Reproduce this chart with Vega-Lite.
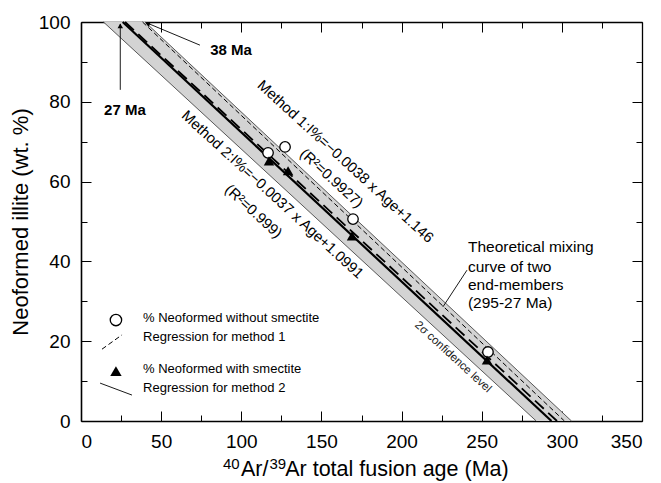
{
  "$schema": "https://vega.github.io/schema/vega-lite/v6.json",
  "width": 561,
  "height": 399,
  "autosize": {"type": "none"},
  "padding": {"left": 81, "top": 22, "right": 19, "bottom": 62},
  "background": "white",
  "config": {
    "view": {"stroke": null},
    "font": "Liberation Sans",
    "axis": {
      "grid": false,
      "domainColor": "black",
      "tickColor": "black",
      "labelColor": "black",
      "titleColor": "black",
      "labelFont": "Liberation Sans",
      "titleFont": "Liberation Sans",
      "labelFontSize": 19,
      "titleFontSize": 22,
      "titleFontWeight": "normal",
      "domainWidth": 1.6,
      "tickWidth": 1
    }
  },
  "datasets": {
    "band": [
      {"y": 100, "x": 14, "x2": 40},
      {"y": 0, "x": 284, "x2": 306}
    ],
    "segs": [
      {"kind": "edge", "x": 14, "y": 100, "x2": 284, "y2": 0},
      {"kind": "edge", "x": 40, "y": 100, "x2": 306, "y2": 0},
      {"kind": "solid", "x": 26, "y": 100, "x2": 293.5, "y2": 0},
      {"kind": "longdash", "x": 27.5, "y": 100, "x2": 297, "y2": 0},
      {"kind": "dash", "x": 38.4, "y": 100, "x2": 301.6, "y2": 0},
      {"kind": "thin", "x": 74.2, "y": 94.2, "x2": 41.5, "y2": 99.7},
      {"kind": "thin", "x": 24.5, "y": 83, "x2": 24.5, "y2": 99.5},
      {"kind": "thin", "x": 240.8, "y": 37.8, "x2": 225.8, "y2": 28.6},
      {"kind": "dash", "x": 13.1, "y": 18, "x2": 25.6, "y2": 21.6},
      {"kind": "thin", "x": 11.9, "y": 9.5, "x2": 31.8, "y2": 6.5}
    ],
    "points": [
      {"series": "without", "x": 116.7, "y": 67.2},
      {"series": "without", "x": 127.3, "y": 68.7},
      {"series": "without", "x": 169.7, "y": 50.6},
      {"series": "without", "x": 253.9, "y": 17.3},
      {"series": "with", "x": 117.3, "y": 65.2},
      {"series": "with", "x": 129.2, "y": 62.7},
      {"series": "with", "x": 169.1, "y": 46.4},
      {"series": "with", "x": 253.3, "y": 15.3}
    ],
    "legendmarks": [
      {"series": "without", "x": 21.8, "y": 25.3},
      {"series": "with", "x": 21.8, "y": 12.5}
    ],
    "heads": [
      {"name": "a38", "x": 41.5, "y": 99.6},
      {"name": "a27", "x": 24.5, "y": 99.0}
    ],
    "xtitle": [
      {"part": "sup", "x": 88.6, "y": -12.0, "text": "40"},
      {"part": "main", "x": 99.8, "y": -13.8, "text": "Ar/"},
      {"part": "sup", "x": 117.6, "y": -12.0, "text": "39"},
      {"part": "main", "x": 127.4, "y": -13.8, "text": "Ar total fusion age (Ma)"}
    ],
    "texts": [
      {"group": "bold", "x": 93.6, "y": 93.0, "text": "38 Ma"},
      {"group": "bold", "x": 27.4, "y": 77.9, "text": "27 Ma"},
      {"group": "eq", "x": 164.7, "y": 64.9, "text": "Method 1:I%=−0.0038 x Age+1.146"},
      {"group": "eq", "x": 156, "y": 60.7, "text": "(R²=0.9927)"},
      {"group": "eq", "x": 119.2, "y": 56.6, "text": "Method 2:I%=−0.0037 x Age+1.0991"},
      {"group": "eq", "x": 107.3, "y": 52.4, "text": "(R²=0.999)"},
      {"group": "sigma", "x": 232, "y": 16.0, "text": "2σ confidence level"},
      {"group": "theory", "x": 241.4, "y": 43.6, "text": "Theoretical mixing"},
      {"group": "theory", "x": 241.4, "y": 38.6, "text": "curve of two"},
      {"group": "theory", "x": 241.4, "y": 34.1, "text": "end-members"},
      {"group": "theory", "x": 241.4, "y": 29.6, "text": "(295-27 Ma)"},
      {"group": "legend", "x": 38.7, "y": 25.8, "text": "% Neoformed without smectite"},
      {"group": "legend", "x": 38.7, "y": 21.1, "text": "Regression for method 1"},
      {"group": "legend", "x": 38.7, "y": 13.0, "text": "% Neoformed with smectite"},
      {"group": "legend", "x": 38.7, "y": 8.3, "text": "Regression for method 2"}
    ]
  },
  "resolve": {"axis": {"x": "independent", "y": "independent"}},
  "encoding": {
    "x": {"field": "x", "type": "quantitative", "scale": {"domain": [0, 350], "nice": false, "zero": false}, "axis": null},
    "y": {"field": "y", "type": "quantitative", "scale": {"domain": [0, 100], "nice": false, "zero": false}, "axis": null}
  },
  "layer": [
    {
      "data": {"name": "band"},
      "mark": {"type": "area", "orient": "horizontal", "fill": "#d3d3d3"},
      "encoding": {
        "x": {"field": "x", "type": "quantitative", "scale": {"domain": [0, 350], "nice": false, "zero": false},
          "axis": {"orient": "bottom", "values": [0, 50, 100, 150, 200, 250, 300, 350], "tickSize": -10, "labelPadding": 21, "title": null}},
        "x2": {"field": "x2"},
        "y": {"field": "y", "type": "quantitative", "scale": {"domain": [0, 100], "nice": false, "zero": false},
          "axis": {"orient": "left", "values": [0, 20, 40, 60, 80, 100], "tickSize": -10, "labelPadding": 21, "title": "Neoformed illite (wt. %)", "titlePadding": 6}}
      }
    },
    {
      "data": {"name": "segs"},
      "transform": [{"filter": "datum.kind === 'edge'"}],
      "mark": {"type": "rule", "color": "#333333", "strokeWidth": 0.8},
      "encoding": {
        "x": {"field": "x", "type": "quantitative", "scale": {"domain": [0, 350], "nice": false, "zero": false},
          "axis": {"orient": "bottom", "values": [25, 75, 125, 175, 225, 275, 325], "tickSize": -6, "labels": false, "domain": false, "title": null}},
        "x2": {"field": "x2"},
        "y": {"field": "y", "type": "quantitative", "scale": {"domain": [0, 100], "nice": false, "zero": false},
          "axis": {"orient": "left", "values": [10, 30, 50, 70, 90], "tickSize": -6, "labels": false, "domain": false, "title": null}},
        "y2": {"field": "y2"}
      }
    },
    {
      "data": {"name": "segs"},
      "transform": [{"filter": "datum.kind === 'solid'"}],
      "mark": {"type": "rule", "color": "black", "strokeWidth": 2.2},
      "encoding": {
        "x": {"field": "x", "type": "quantitative", "scale": {"domain": [0, 350], "nice": false, "zero": false},
          "axis": {"orient": "top", "values": [0, 50, 100, 150, 200, 250, 300, 350], "tickSize": -10, "labels": false, "domainWidth": 1.3, "title": null}},
        "x2": {"field": "x2"},
        "y": {"field": "y", "type": "quantitative", "scale": {"domain": [0, 100], "nice": false, "zero": false},
          "axis": {"orient": "right", "values": [0, 20, 40, 60, 80, 100], "tickSize": -10, "labels": false, "domainWidth": 1.3, "title": null}},
        "y2": {"field": "y2"}
      }
    },
    {
      "data": {"name": "segs"},
      "transform": [{"filter": "datum.kind === 'longdash'"}],
      "mark": {"type": "rule", "color": "black", "strokeWidth": 1.8, "strokeDash": [12, 6]},
      "encoding": {
        "x": {"field": "x", "type": "quantitative", "scale": {"domain": [0, 350], "nice": false, "zero": false},
          "axis": {"orient": "top", "values": [25, 75, 125, 175, 225, 275, 325], "tickSize": -6, "labels": false, "domain": false, "title": null}},
        "x2": {"field": "x2"},
        "y": {"field": "y", "type": "quantitative", "scale": {"domain": [0, 100], "nice": false, "zero": false},
          "axis": {"orient": "right", "values": [10, 30, 50, 70, 90], "tickSize": -6, "labels": false, "domain": false, "title": null}},
        "y2": {"field": "y2"}
      }
    },
    {
      "data": {"name": "segs"},
      "transform": [{"filter": "datum.kind === 'dash'"}],
      "mark": {"type": "rule", "color": "black", "strokeWidth": 1, "strokeDash": [5, 3]},
      "encoding": {"x2": {"field": "x2"}, "y2": {"field": "y2"}}
    },
    {
      "data": {"name": "segs"},
      "transform": [{"filter": "datum.kind === 'thin'"}],
      "mark": {"type": "rule", "color": "black", "strokeWidth": 0.9},
      "encoding": {"x2": {"field": "x2"}, "y2": {"field": "y2"}}
    },
    {
      "data": {"name": "heads"},
      "transform": [{"filter": "datum.name === 'a38'"}],
      "mark": {"type": "point", "shape": "triangle-up", "filled": true, "color": "black", "size": 30, "angle": 292, "opacity": 1}
    },
    {
      "data": {"name": "heads"},
      "transform": [{"filter": "datum.name === 'a27'"}],
      "mark": {"type": "point", "shape": "triangle-up", "filled": true, "color": "black", "size": 30, "angle": 0, "opacity": 1}
    },
    {
      "data": {"name": "points"},
      "transform": [{"filter": "datum.series === 'without'"}],
      "mark": {"type": "point", "shape": "circle", "filled": true, "fill": "white", "stroke": "black", "strokeWidth": 1.3, "size": 110, "opacity": 1}
    },
    {
      "data": {"name": "points"},
      "transform": [{"filter": "datum.series === 'with'"}],
      "mark": {"type": "point", "shape": "triangle-up", "filled": true, "color": "black", "size": 110, "opacity": 1}
    },
    {
      "data": {"name": "legendmarks"},
      "transform": [{"filter": "datum.series === 'without'"}],
      "mark": {"type": "point", "shape": "circle", "filled": true, "fill": "white", "stroke": "black", "strokeWidth": 1.3, "size": 130, "opacity": 1}
    },
    {
      "data": {"name": "legendmarks"},
      "transform": [{"filter": "datum.series === 'with'"}],
      "mark": {"type": "point", "shape": "triangle-up", "filled": true, "color": "black", "size": 130, "opacity": 1}
    },
    {
      "data": {"name": "xtitle"},
      "transform": [{"filter": "datum.part === 'sup'"}],
      "mark": {"type": "text", "font": "Liberation Sans", "fontSize": 15, "align": "left", "baseline": "alphabetic", "color": "black"},
      "encoding": {"text": {"field": "text"}}
    },
    {
      "data": {"name": "xtitle"},
      "transform": [{"filter": "datum.part === 'main'"}],
      "mark": {"type": "text", "font": "Liberation Sans", "fontSize": 21.5, "align": "left", "baseline": "alphabetic", "color": "black"},
      "encoding": {"text": {"field": "text"}}
    },
    {
      "data": {"name": "texts"},
      "transform": [{"filter": "datum.group === 'bold'"}],
      "mark": {"type": "text", "font": "Liberation Sans", "fontSize": 15, "fontWeight": "bold", "align": "center", "baseline": "middle", "color": "black"},
      "encoding": {"text": {"field": "text"}}
    },
    {
      "data": {"name": "texts"},
      "transform": [{"filter": "datum.group === 'eq'"}],
      "mark": {"type": "text", "font": "Liberation Sans", "fontSize": 14.8, "angle": 42.5, "align": "center", "baseline": "middle", "color": "black"},
      "encoding": {"text": {"field": "text"}}
    },
    {
      "data": {"name": "texts"},
      "transform": [{"filter": "datum.group === 'sigma'"}],
      "mark": {"type": "text", "font": "Liberation Sans", "fontSize": 11.5, "angle": 42.6, "align": "center", "baseline": "middle", "color": "#222222"},
      "encoding": {"text": {"field": "text"}}
    },
    {
      "data": {"name": "texts"},
      "transform": [{"filter": "datum.group === 'theory'"}],
      "mark": {"type": "text", "font": "Liberation Sans", "fontSize": 15.5, "align": "left", "baseline": "middle", "color": "black"},
      "encoding": {"text": {"field": "text"}}
    },
    {
      "data": {"name": "texts"},
      "transform": [{"filter": "datum.group === 'legend'"}],
      "mark": {"type": "text", "font": "Liberation Sans", "fontSize": 13, "align": "left", "baseline": "middle", "color": "black"},
      "encoding": {"text": {"field": "text"}}
    }
  ]
}
